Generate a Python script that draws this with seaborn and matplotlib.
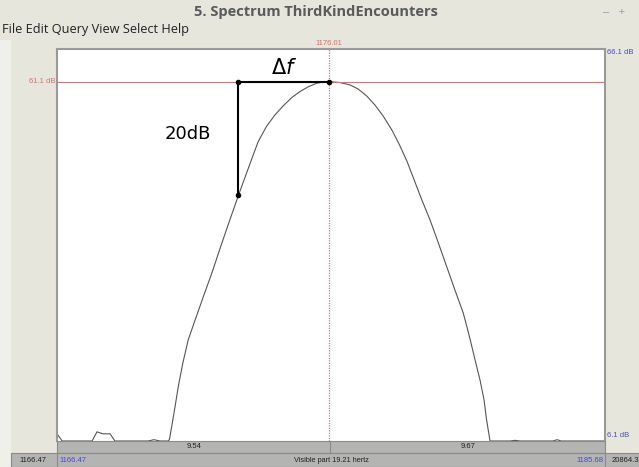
## IMPORTING LIBRARIES AND SETTING PARAMETERS
import seaborn as sns
import pandas as pd
from matplotlib import pyplot as plt
from matplotlib.patches import Rectangle

sns.set_style('white')
plt.rcParams['font.family'] = ['Liberation Sans', 'DejaVu Sans']

## spectrum values (Hz, dB)
freq = [1166.47, 1166.65, 1167.70, 1167.87, 1168.08, 1168.33, 1168.50, 1169.66,
        1169.87, 1170.08, 1170.36, 1170.41, 1170.49, 1170.61, 1170.72, 1170.88,
        1171.07, 1171.31, 1171.60, 1171.89, 1172.18, 1172.47, 1172.83, 1173.24,
        1173.52, 1173.82, 1174.11, 1174.40, 1174.71, 1174.99, 1175.27, 1175.57,
        1175.79, 1176.01, 1176.39, 1176.74, 1177.02, 1177.33, 1177.62, 1177.91,
        1178.21, 1178.49, 1178.74, 1178.96, 1179.25, 1179.55, 1179.84, 1180.13,
        1180.42, 1180.71, 1180.85, 1180.95, 1181.12, 1181.30, 1181.44, 1181.53,
        1181.65, 1182.35, 1182.53, 1182.70, 1183.86, 1184.00, 1184.14, 1185.68]
level = [7.2, 6.1, 6.1, 7.5, 7.2, 7.2, 6.1, 6.1,
         6.3, 6.1, 6.1, 6.3, 8.3, 11.4, 14.4, 18.0,
         21.6, 24.6, 28.2, 31.7, 35.5, 39.2, 43.7, 48.6,
         51.9, 54.3, 56.0, 57.4, 58.7, 59.6, 60.3, 60.85,
         61.05, 61.1, 60.97, 60.6, 60.0, 58.9, 57.5, 55.8,
         53.7, 51.3, 48.9, 46.4, 43.1, 39.9, 36.4, 32.8,
         29.2, 25.7, 23.4, 21.7, 18.6, 15.4, 12.4, 9.3,
         6.1, 6.1, 6.2, 6.1, 6.1, 6.3, 6.1, 6.1]

f_min, f_max = 1166.47, 1185.68
db_min, db_max = 6.1, 66.1
cursor_f, cursor_db = 1176.01, 61.1
marker_f, marker_db = 1172.83, 43.7

title = "5. Spectrum ThirdKindEncounters"
menu = "File Edit Query View Select Help"

bg = '#e6e6dc'
bar = '#b4b4b2'
red = '#e36a6a'
blue = '#4a4ac8'

W, H = 639, 467
fig = plt.figure(figsize=(W / 100, H / 100), dpi=100, facecolor=bg)

def px(x0, y0, x1, y1):
    ## pixel box (top-left origin) -> figure fraction rect
    return [x0 / W, 1 - y1 / H, (x1 - x0) / W, (y1 - y0) / H]

## window chrome
fig.patches.append(Rectangle((0, 0), 11 / W, 1 - 40 / H, transform=fig.transFigure,
                             facecolor='#f0f0ea', edgecolor='none', zorder=0))
fig.text(0.495, 1 - 12 / H, title, ha='center', va='center', fontsize=10.5,
         fontweight='bold', color='#5a5a5a', family=['Open Sans', 'DejaVu Sans'])
fig.text(1 - 25 / W, 1 - 12 / H, '–   +', ha='center', va='center', fontsize=8,
         color='#999999')
fig.text(2 / W, 1 - 30 / H, menu, ha='left', va='center', fontsize=9.2,
         color='#222222', family=['Open Sans', 'DejaVu Sans'])

## bottom bars
for box in [px(57, 441, 605, 453), px(11, 453, 639, 467)]:
    fig.patches.append(Rectangle(box[:2], box[2], box[3], transform=fig.transFigure,
                                 facecolor=bar, edgecolor='#8a8a8a', lw=0.8, zorder=1))
for xd in [57, 605]:
    fig.add_artist(plt.Line2D([xd / W] * 2, [0, 14 / H], color='#8a8a8a', lw=0.8))
fig.add_artist(plt.Line2D([330 / W] * 2, [14 / H, 26 / H], color='#8a8a8a', lw=0.8))
fig.text(194 / W, 1 - 447 / H, '9.54', ha='center', va='center', fontsize=5.5, color='#222222')
fig.text(468 / W, 1 - 447 / H, '9.67', ha='center', va='center', fontsize=5.5, color='#222222')
fig.text(33 / W, 1 - 460 / H, '1166.47', ha='center', va='center', fontsize=5.5, color='#222222')
fig.text(59 / W, 1 - 460 / H, '1166.47', ha='left', va='center', fontsize=5.5, color=blue)
fig.text(331 / W, 1 - 460 / H, 'Visible part 19.21 hertz', ha='center', va='center',
         fontsize=5.3, color='#222222')
fig.text(603 / W, 1 - 460 / H, '1185.68', ha='right', va='center', fontsize=5.5, color=blue)
fig.text(612 / W, 1 - 460 / H, '20864.3', ha='left', va='center', fontsize=5.5, color='#222222')

## spectrum panel
ax = fig.add_axes(px(57, 49, 605, 441))
ax.set_facecolor('white')
df = pd.DataFrame({'freq': freq, 'level': level})
sns.lineplot(data=df, x='freq', y='level', ax=ax, color='#555555', lw=0.8,
             sort=False, estimator=None)
ax.set_xlim(f_min, f_max)
ax.set_ylim(db_min, db_max)
ax.set_xticks([])
ax.set_yticks([])
ax.set_xlabel('')
ax.set_ylabel('')
for side in ['left', 'top', 'right']:
    ax.spines[side].set_color('#999999')
    ax.spines[side].set_linewidth(1.5)
ax.spines['bottom'].set_visible(False)

## cursor
ax.axhline(cursor_db, color=red, lw=0.8)
ax.axvline(cursor_f, color=red, lw=0.9, ls=(0, (1, 1)))
ax.text(-0.003, cursor_db, '61.1 dB', transform=ax.get_yaxis_transform(), ha='right',
        va='center', fontsize=5.5, color=red, clip_on=False)
ax.text(cursor_f, 1.015, '1176.01', transform=ax.get_xaxis_transform(), ha='center',
        va='center', fontsize=5.5, color=red, clip_on=False)
ax.text(1.003, 0.99, '66.1 dB', transform=ax.transAxes, ha='left', va='center',
        fontsize=5.5, color=blue, clip_on=False)
ax.text(1.003, 0.013, '6.1 dB', transform=ax.transAxes, ha='left', va='center',
        fontsize=5.5, color=blue, clip_on=False)

## bandwidth annotation
ax.plot([marker_f, marker_f, cursor_f], [marker_db, cursor_db, cursor_db],
        color='black', lw=1.5)
ax.plot([marker_f, marker_f, cursor_f], [marker_db, cursor_db, cursor_db],
        'o', color='black', ms=3)
ax.text((marker_f + cursor_f) / 2, cursor_db + 0.6, r'$\Delta f$', ha='center',
        va='bottom', fontsize=15, color='black',
        family=['DejaVu Sans'])
ax.text(marker_f - 0.95, (marker_db + cursor_db) / 2 + 0.7, '20dB', ha='right',
        va='center', fontsize=13, color='black', family=['DejaVu Sans'])

plt.savefig('out.png', dpi=100, facecolor=bg)
